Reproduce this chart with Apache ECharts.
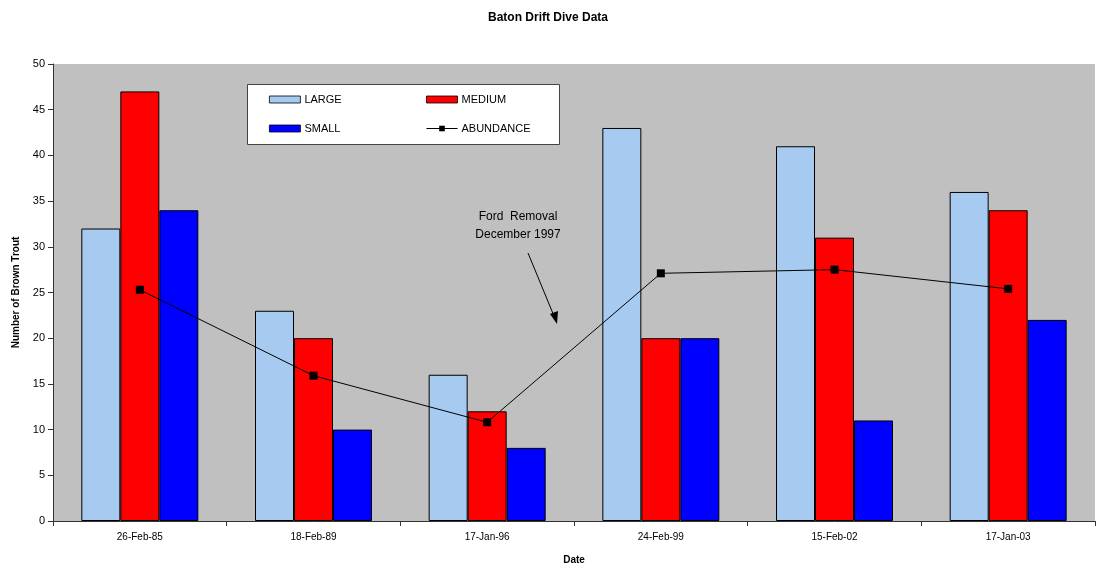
<!DOCTYPE html>
<html>
<head>
<meta charset="utf-8">
<script src="https://cdn.jsdelivr.net/npm/echarts@6/dist/echarts.min.js"></script>
<style>
  html, body { margin: 0; padding: 0; background: #fff; }
  #chart { width: 1096px; height: 567px; }
</style>
</head>
<body>
<div id="chart"></div>
<script>
// Dive survey dates
const dates = ['26-Feb-85', '18-Feb-89', '17-Jan-96', '24-Feb-99', '15-Feb-02', '17-Jan-03'];
// Brown trout counts by size class
const large = [32, 23, 16, 43, 41, 36];
const medium = [47, 20, 12, 20, 31, 34];
const small = [34, 10, 8, 20, 11, 22];
// Overall abundance index
const abundance = [25.3, 15.9, 10.8, 27.1, 27.5, 25.4];

const FONT = 'Liberation Sans, Arial, sans-serif';
const chart = echarts.init(document.getElementById('chart'), null, { renderer: 'canvas' });

const barStyle = (color) => ({ color: color, borderColor: '#000', borderWidth: 1 });
const legendText = { fontFamily: FONT, fontSize: 11, color: '#000', padding: [0, 0, 0, -1] };
const legendCommon = {
  orient: 'vertical',
  top: 94, padding: 0,
  itemWidth: 31, itemHeight: 7, itemGap: 18,
  itemStyle: { borderWidth: 0.8, borderColor: '#000' },
  textStyle: legendText,
  z: 10
};

chart.setOption({
  backgroundColor: '#fff',
  animation: false,
  textStyle: { fontFamily: FONT },
  title: {
    text: 'Baton Drift Dive Data',
    left: 'center',
    top: 7,
    textStyle: { fontFamily: FONT, fontSize: 12, fontWeight: 'bold', color: '#000' }
  },
  grid: {
    left: 53, right: 1, top: 64, bottom: 46,
    outerBoundsMode: 'none',
    containLabel: false,
    show: true, backgroundColor: '#c0c0c0', borderWidth: 0
  },
  legend: [
    Object.assign({}, legendCommon, {
      left: 269,
      data: [{ name: 'LARGE', icon: 'rect' }, { name: 'SMALL', icon: 'rect' }]
    }),
    Object.assign({}, legendCommon, {
      left: 426,
      lineStyle: { width: 1 },
      data: [{ name: 'MEDIUM', icon: 'rect' },
             { name: 'ABUNDANCE', itemStyle: { borderWidth: 0 }, lineStyle: { width: 1 } }]
    })
  ],
  xAxis: {
    type: 'category',
    data: dates,
    name: 'Date',
    nameLocation: 'middle',
    nameGap: 34,
    nameTextStyle: { fontFamily: FONT, fontSize: 10, fontWeight: 'bold', color: '#000' },
    axisLine: { lineStyle: { color: '#333', width: 1 } },
    axisTick: { show: true, length: 5, lineStyle: { color: '#333' } },
    axisLabel: { fontFamily: FONT, fontSize: 10, color: '#000', margin: 11 },
    splitLine: { show: false }
  },
  yAxis: {
    type: 'value',
    min: 0, max: 50, interval: 5,
    name: 'Number of Brown Trout',
    nameLocation: 'middle',
    nameGap: 32,
    nameRotate: 90,
    nameTextStyle: { fontFamily: FONT, fontSize: 10, fontWeight: 'bold', color: '#000' },
    axisLine: { show: true, lineStyle: { color: '#333', width: 1 } },
    axisTick: { show: true, length: 5, inside: false, lineStyle: { color: '#333' } },
    axisLabel: { fontFamily: FONT, fontSize: 11, color: '#000', margin: 8 },
    splitLine: { show: false }
  },
  series: [
    { name: 'LARGE', type: 'bar', data: large, barWidth: 39, barGap: '0%', itemStyle: barStyle('#a6caf0') },
    { name: 'MEDIUM', type: 'bar', data: medium, barWidth: 39, barGap: '0%', itemStyle: barStyle('#ff0000') },
    { name: 'SMALL', type: 'bar', data: small, barWidth: 39, barGap: '0%', itemStyle: barStyle('#0000ff') },
    {
      name: 'ABUNDANCE', type: 'line', data: abundance,
      symbol: 'rect', symbolSize: 8,
      lineStyle: { color: '#000', width: 1 },
      itemStyle: { color: '#000' },
      z: 5
    }
  ],
  graphic: [
    // legend frame
    {
      type: 'rect', left: 247, top: 84, z: 1,
      shape: { width: 312, height: 60 },
      style: { fill: '#fff', stroke: '#444', lineWidth: 1 }
    },
    // annotation text
    {
      type: 'text', z: 6,
      x: 518, y: 208,
      style: {
        text: 'Ford  Removal\nDecember 1997',
        font: '12px ' + FONT, fill: '#000',
        align: 'center', lineHeight: 18
      }
    },
    // annotation arrow shaft
    {
      type: 'line', z: 6,
      shape: { x1: 528, y1: 253, x2: 554, y2: 316 },
      style: { stroke: '#000', lineWidth: 1 }
    },
    // annotation arrow head
    {
      type: 'polygon', z: 6,
      shape: { points: [[557, 324], [550, 314], [558, 311]] },
      style: { fill: '#000' }
    }
  ]
});
</script>
</body>
</html>
